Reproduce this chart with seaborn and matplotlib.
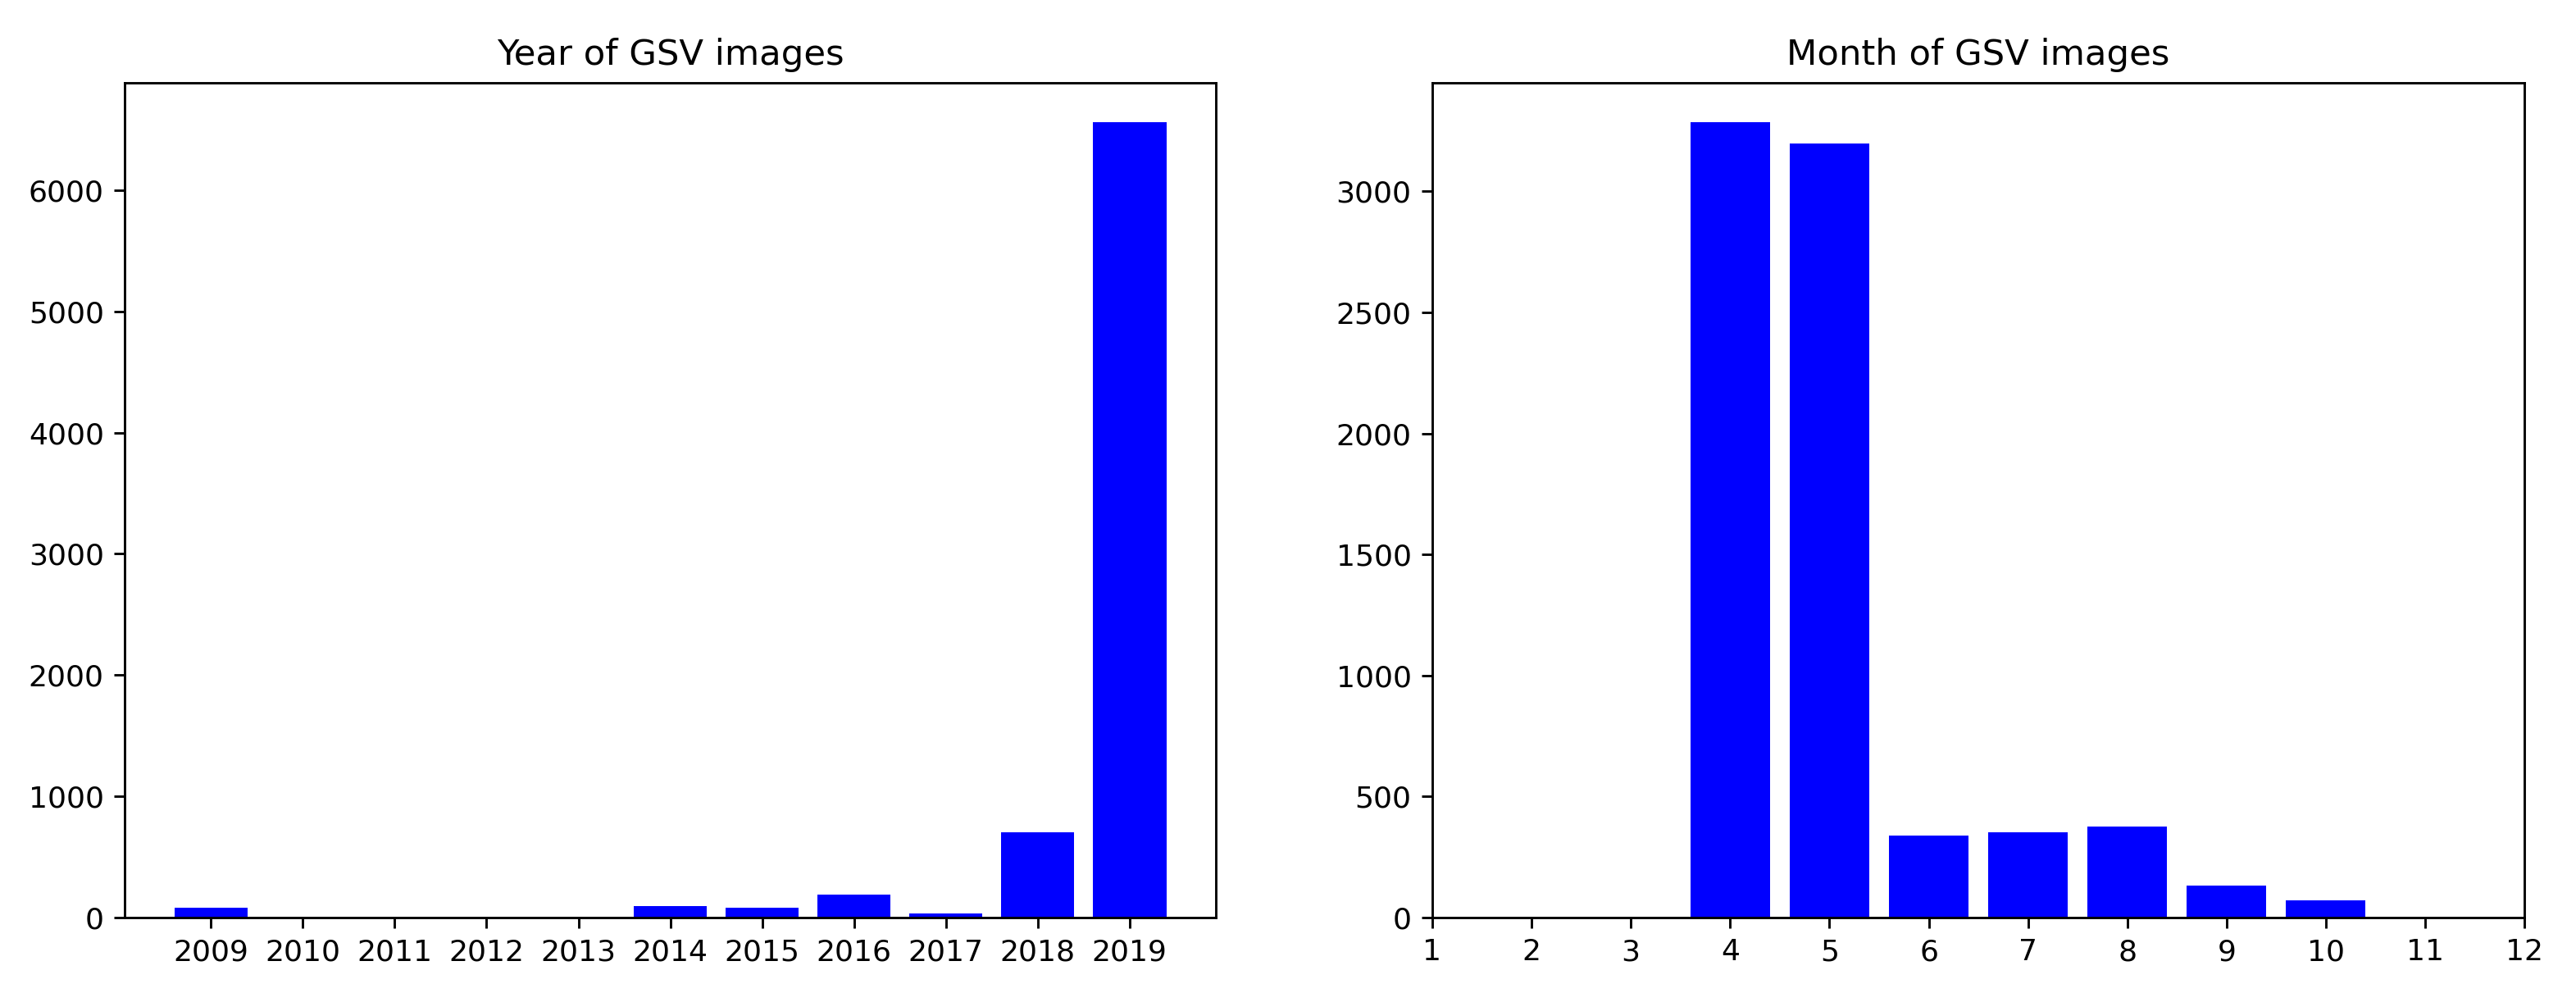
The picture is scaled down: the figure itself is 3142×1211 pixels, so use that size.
import matplotlib
matplotlib.use("Agg")
import matplotlib.pyplot as plt
import pandas as pd
import seaborn as sns

# values
years = [2009, 2010, 2011, 2012, 2013, 2014, 2015, 2016, 2017, 2018, 2019]
year_counts = [83, 0, 0, 0, 0, 95, 83, 192, 36, 704, 6560]

months = [1, 2, 3, 4, 5, 6, 7, 8, 9, 10, 11, 12]
month_counts = [0, 0, 0, 3286, 3199, 340, 352, 376, 132, 71, 0, 0]

year_df = pd.DataFrame({"year": years, "count": year_counts})
month_df = pd.DataFrame({"month": months, "count": month_counts})

DPI = 260
fig = plt.figure(figsize=(3142 / DPI, 1211 / DPI), dpi=DPI)
ax1 = fig.add_axes([0.0484, 0.076, 0.4236, 0.841])
ax2 = fig.add_axes([0.556, 0.076, 0.424, 0.841])

sns.barplot(data=year_df, x="year", y="count", native_scale=True, color="blue",
            saturation=1, errorbar=None, linewidth=0, ax=ax1)
ax1.set_xticks(years)
ax1.set_xticklabels([str(y) for y in years])
ax1.set_xlim(2008.06, 2019.94)
ax1.set_title("Year of GSV images")
ax1.set_xlabel("")
ax1.set_ylabel("")

sns.barplot(data=month_df, x="month", y="count", native_scale=True, color="blue",
            saturation=1, errorbar=None, linewidth=0, ax=ax2)
ax2.set_xticks(months)
ax2.set_xticklabels([str(m) for m in months])
ax2.set_xlim(1, 12)
ax2.set_title("Month of GSV images")
ax2.set_xlabel("")
ax2.set_ylabel("")

fig.savefig("out.png", dpi=DPI)
